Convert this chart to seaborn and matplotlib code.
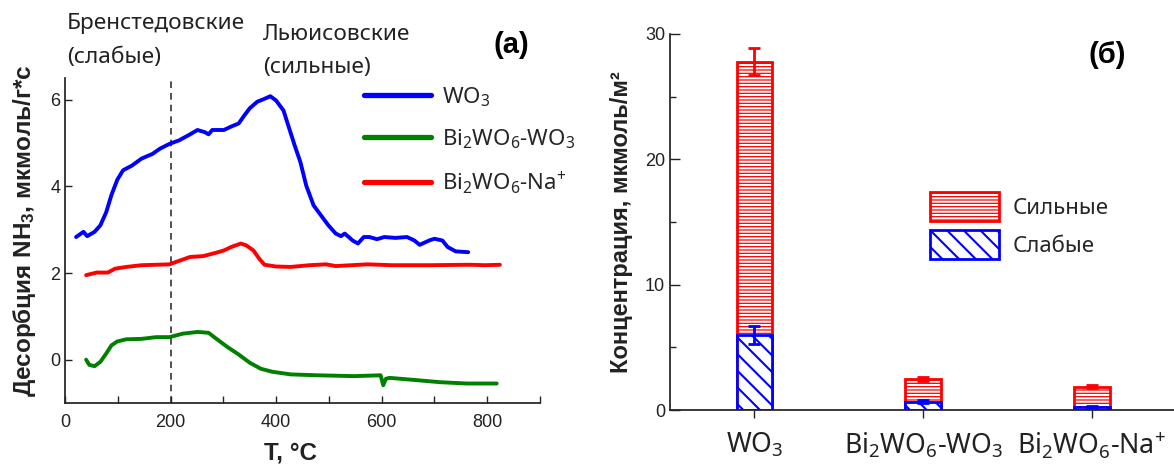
import numpy as np
import pandas as pd
import matplotlib
matplotlib.use('Agg')
import matplotlib.pyplot as plt
import matplotlib.patches as mpatches
from matplotlib.legend_handler import HandlerTuple
from matplotlib.ticker import MultipleLocator
import seaborn as sns

# ---- data: TPD curves ----
t_wo3 = [21, 35, 42, 56, 67, 78, 88, 99, 110, 127, 145, 166, 180, 198, 216, 237, 251, 265,
         272, 279, 301, 315, 329, 340, 350, 364, 378, 389, 400, 414, 425, 435, 446, 457, 471,
         485, 499, 513, 523, 530, 545, 555, 566, 577, 591, 605, 626, 648, 662, 672, 690, 700,
         715, 725, 740, 764]
y_wo3 = [2.83, 2.95, 2.85, 2.95, 3.1, 3.4, 3.8, 4.15, 4.37, 4.48, 4.64, 4.75, 4.87, 4.98,
         5.06, 5.2, 5.3, 5.25, 5.2, 5.3, 5.3, 5.38, 5.45, 5.64, 5.8, 5.95, 6.02, 6.08, 5.98,
         5.75, 5.33, 4.95, 4.56, 4.02, 3.56, 3.33, 3.1, 2.91, 2.85, 2.91, 2.75, 2.68, 2.83,
         2.83, 2.78, 2.83, 2.81, 2.83, 2.75, 2.65, 2.75, 2.79, 2.75, 2.6, 2.5, 2.48]

t_bwo = [40, 46, 56, 67, 78, 88, 99, 116, 145, 173, 198, 223, 251, 272, 287, 308, 329, 350,
         371, 393, 428, 477, 548, 598, 603, 608, 615, 654, 711, 761, 818]
y_bwo = [0.0, -0.12, -0.15, -0.05, 0.14, 0.33, 0.42, 0.47, 0.48, 0.52, 0.52, 0.6, 0.64, 0.62,
         0.48, 0.29, 0.12, -0.07, -0.21, -0.28, -0.34, -0.36, -0.38, -0.36, -0.59, -0.44,
         -0.42, -0.46, -0.52, -0.55, -0.55]

t_na = [40, 60, 81, 95, 116, 145, 173, 198, 216, 237, 262, 287, 301, 315, 333, 343, 357, 368,
        378, 400, 428, 463, 495, 513, 573, 619, 690, 768, 796, 824]
y_na = [1.95, 2.01, 2.01, 2.1, 2.14, 2.18, 2.19, 2.2, 2.28, 2.37, 2.39, 2.47, 2.52, 2.6, 2.68,
        2.64, 2.52, 2.33, 2.19, 2.15, 2.14, 2.18, 2.2, 2.16, 2.2, 2.18, 2.18, 2.19, 2.18, 2.19]

series_names = ['WO$_3$', 'Bi$_2$WO$_6$-WO$_3$', 'Bi$_2$WO$_6$-Na$^{+}$']
series_colors = ['#0000ff', '#008000', '#ff0000']

# ---- data: acid site concentration ----
categories = ['WO$_3$', 'Bi$_2$WO$_6$-WO$_3$', 'Bi$_2$WO$_6$-Na$^{+}$']
weak = [6.0, 0.67, 0.27]
strong = [21.8, 1.78, 1.59]
weak_err = [0.7, 0.1, 0.08]
total_err = [1.1, 0.15, 0.12]

sns.set_theme(style='ticks')
plt.rcParams['font.family'] = ['Liberation Sans', 'DejaVu Sans']
plt.rcParams['mathtext.fontset'] = 'custom'
plt.rcParams['mathtext.rm'] = 'Noto Sans'
plt.rcParams['mathtext.it'] = 'Noto Sans'
plt.rcParams['mathtext.bf'] = 'Liberation Sans:bold'
plt.rcParams['hatch.linewidth'] = 1.5
LABEL_FONT = ['Noto Sans', 'DejaVu Sans']
PANEL_FONT = ['Liberation Sans', 'DejaVu Sans']
INK = '#222222'

W, H = 1174, 465
fig = plt.figure(figsize=(W / 100, H / 100), dpi=100)

# ---------------- panel (a) ----------------
ax1 = fig.add_axes([65 / W, 1 - 403 / H, (540 - 65) / W, (403 - 78) / H])
df = pd.concat([
    pd.DataFrame({'T': t_wo3, 'v': y_wo3, 's': series_names[0]}),
    pd.DataFrame({'T': t_bwo, 'v': y_bwo, 's': series_names[1]}),
    pd.DataFrame({'T': t_na, 'v': y_na, 's': series_names[2]}),
])
sns.lineplot(data=df, x='T', y='v', hue='s', hue_order=series_names,
             palette=series_colors, estimator=None, sort=False, lw=2.8, ax=ax1)
ax1.axvline(200, color='#333333', ls=(0, (4, 3)), lw=1.2, zorder=0)
ax1.set_xlim(0, 900)
ax1.set_ylim(-1, 6.5)
ax1.xaxis.set_major_locator(MultipleLocator(200))
ax1.xaxis.set_minor_locator(MultipleLocator(100))
ax1.yaxis.set_major_locator(MultipleLocator(2))
ax1.tick_params(axis='both', which='both', direction='in', length=5, width=1,
                colors=INK, labelsize=13)
ax1.tick_params(axis='x', pad=8)
sns.despine(ax=ax1)
for s in ax1.spines.values():
    s.set_color(INK)
ax1.set_xlabel('T, °C', fontsize=17.5, fontweight='bold', color=INK)
ax1.xaxis.set_label_coords((291 - 65) / 475, -0.118)
ax1.set_ylabel('Десорбция $\\mathbf{NH_3}$, мкмоль/г*с', fontsize=17.5,
               fontweight='bold', color=INK)
ax1.yaxis.set_label_coords(-0.057, 0.53)
leg = ax1.legend(loc='upper left', bbox_to_anchor=(344 / W, 1 - 65 / H),
                 bbox_transform=fig.transFigure, frameon=False, handlelength=3.0,
                 labelspacing=0.84, handletextpad=0.5, prop={'family': LABEL_FONT, 'size': 16})
for ln in leg.get_lines():
    ln.set_linewidth(3.8)
fig.text(67 / W, 1 - 24 / H, 'Бренстедовские', fontsize=16.3, family=LABEL_FONT,
         color=INK, va='center', ha='left')
fig.text(67 / W, 1 - 57 / H, '(слабые)', fontsize=16.3, family=LABEL_FONT,
         color=INK, va='center', ha='left')
fig.text(263 / W, 1 - 35 / H, 'Льюисовские', fontsize=16.3, family=LABEL_FONT,
         color=INK, va='center', ha='left')
fig.text(263 / W, 1 - 68 / H, '(сильные)', fontsize=16.3, family=LABEL_FONT,
         color=INK, va='center', ha='left')
fig.text(511 / W, 1 - 45 / H, '(a)', fontsize=21, family=PANEL_FONT, fontweight='bold',
         color='black', ha='center', va='center')

# ---------------- panel (б) ----------------
ax2 = fig.add_axes([670 / W, 1 - 410 / H, (W - 670) / W, (410 - 34) / H])
total = [w + s for w, s in zip(weak, strong)]
bw = 0.21
sns.barplot(x=categories, y=total, ax=ax2, width=bw, color='#ff0000', saturation=1,
            edgecolor='white', hatch='-----', linewidth=0, errorbar=None)
ax2.bar(range(3), total, width=bw, fill=False, edgecolor='#ff0000', linewidth=2)
ax2.errorbar(range(3), total, yerr=total_err, fmt='none', ecolor='#ff0000',
             elinewidth=2, capsize=4.5, capthick=2)
sns.barplot(x=categories, y=weak, ax=ax2, width=bw, color='white', saturation=1,
            edgecolor='#0000ff', hatch='\\\\', linewidth=2, errorbar=None)
ax2.errorbar(range(3), weak, yerr=weak_err, fmt='none', ecolor='#0000ff',
             elinewidth=2, capsize=4.5, capthick=2)
ax2.set_xlim(-0.5, 2.487)
ax2.set_ylim(0, 30)
ax2.yaxis.set_major_locator(MultipleLocator(10))
ax2.yaxis.set_minor_locator(MultipleLocator(5))
ax2.tick_params(axis='y', which='major', direction='in', length=7, width=1, colors=INK,
                labelsize=13)
ax2.tick_params(axis='y', which='minor', direction='in', length=4, width=1, colors=INK)
ax2.tick_params(axis='x', direction='out', length=6, width=1, colors=INK, pad=9)
for lab in ax2.get_xticklabels():
    lab.set_fontfamily(LABEL_FONT)
    lab.set_fontsize(19.2)
sns.despine(ax=ax2)
for s in ax2.spines.values():
    s.set_color(INK)
ax2.set_xlabel('')
ax2.set_ylabel('Концентрация, мкмоль/м²', fontsize=17, fontweight='bold', color=INK,
               labelpad=9)

h_strong = (mpatches.Patch(facecolor='#ff0000', edgecolor='white', hatch='-----', lw=0),
            mpatches.Patch(fill=False, edgecolor='#ff0000', lw=2))
h_weak = mpatches.Patch(facecolor='white', edgecolor='#0000ff', hatch='\\\\', lw=2)
ax2.legend([h_strong, h_weak], ['Сильные', 'Слабые'],
           handler_map={tuple: HandlerTuple(ndivide=1, pad=0)},
           loc='upper left', bbox_to_anchor=(910 / W, 1 - 172 / H), bbox_transform=fig.transFigure,
           frameon=False, handlelength=3.1, handleheight=1.65, labelspacing=0.4,
           handletextpad=0.6, prop={'family': LABEL_FONT, 'size': 16})
fig.text(1107 / W, 1 - 55 / H, '(б)', fontsize=21, family=PANEL_FONT, fontweight='bold',
         color='black', ha='center', va='center')

fig.savefig('out.png', dpi=100)
